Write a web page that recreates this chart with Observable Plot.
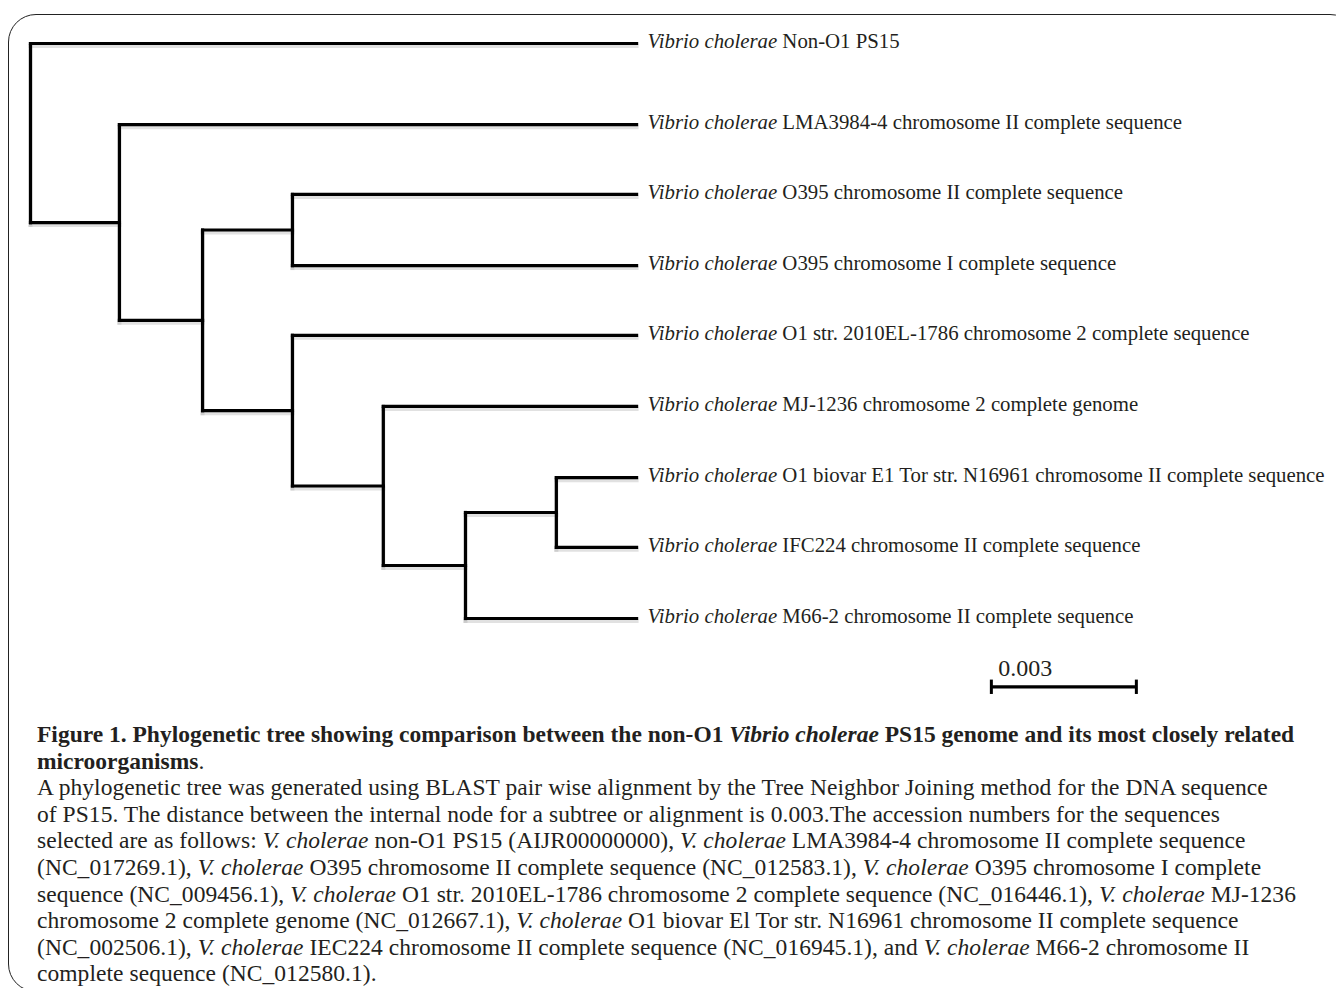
<!DOCTYPE html>
<html><head><meta charset="utf-8">
<script src="https://cdn.jsdelivr.net/npm/d3@7"></script>
<script src="https://cdn.jsdelivr.net/npm/@observablehq/plot@0.6"></script>
<style>
html,body{margin:0;padding:0;background:#fff;}
body{width:1336px;height:988px;overflow:hidden;position:relative;font-family:"Liberation Serif","Times New Roman",serif;color:#231f20;}
#frame{position:absolute;left:8px;top:14px;width:1350px;height:978px;border:1.5px solid #222;border-radius:28px;box-sizing:border-box;}
#chart{position:absolute;left:0;top:0;}
#caption{position:absolute;left:37px;top:721px;font-size:23.5px;line-height:26.6px;}
#caption div{white-space:nowrap;}
#caption div.body{letter-spacing:0.05px;}
</style></head><body>
<div id="frame"></div>
<div id="chart"></div>
<div id="caption">
<div><b>Figure 1. Phylogenetic tree showing comparison between the non-O1 <i>Vibrio cholerae</i> PS15 genome and its most closely related</b></div>
<div><b>microorganisms</b>.</div>
<div class="body">A phylogenetic tree was generated using BLAST pair wise alignment by the Tree Neighbor Joining method for the DNA sequence</div>
<div class="body">of PS15. The distance between the internal node for a subtree or alignment is 0.003.The accession numbers for the sequences</div>
<div class="body">selected are as follows: <i>V. cholerae</i> non-O1 PS15 (AIJR00000000), <i>V. cholerae</i> LMA3984-4 chromosome II complete sequence</div>
<div class="body">(NC_017269.1), <i>V. cholerae</i> O395 chromosome II complete sequence (NC_012583.1), <i>V. cholerae</i> O395 chromosome I complete</div>
<div class="body">sequence (NC_009456.1), <i>V. cholerae</i> O1 str. 2010EL-1786 chromosome 2 complete sequence (NC_016446.1), <i>V. cholerae</i> MJ-1236</div>
<div class="body">chromosome 2 complete genome (NC_012667.1), <i>V. cholerae</i> O1 biovar El Tor str. N16961 chromosome II complete sequence</div>
<div class="body">(NC_002506.1), <i>V. cholerae</i> IEC224 chromosome II complete sequence (NC_016945.1), and <i>V. cholerae</i> M66-2 chromosome II</div>
<div class="body">complete sequence (NC_012580.1).</div>
</div>
<script>
// ---- data ----
const genus = "Vibrio cholerae";
const leafIds = ["L0","L1","L2","L3","L4","L5","L6","L7","L8"];
const leafStrains = [
  "Non-O1 PS15",
  "LMA3984-4 chromosome II complete sequence",
  "O395 chromosome II complete sequence",
  "O395 chromosome I complete sequence",
  "O1 str. 2010EL-1786 chromosome 2 complete sequence",
  "MJ-1236 chromosome 2 complete genome",
  "O1 biovar E1 Tor str. N16961 chromosome II complete sequence",
  "IFC224 chromosome II complete sequence",
  "M66-2 chromosome II complete sequence"
];
const leafRows = [0, 1.13, 2.1, 3.09, 4.06, 5.05, 6.04, 7.01, 8.0];
const leafDepths = [0.01254, 0.01254, 0.01254, 0.01254, 0.01254, 0.01254, 0.01254, 0.01254, 0.01254];
const nodeIds = ["root","A","C","B","D","E","F","G"];
const nodeDepths = [0, 0.00184, 0.00356, 0.00542, 0.00542, 0.0073, 0.009, 0.01088];
const nodeChildren = [["L0","A"],["L1","C"],["B","D"],["L2","L3"],["L4","E"],["L5","F"],["G","L8"],["L6","L7"]];
const scaleBarLength = 0.003;
const scaleBarStart = 0.01988;
const scaleBarRow = 8.95;
const scaleBarLabel = "0.003";

// ---- build tree layout ----
const pos = {};
leafIds.forEach((id, i) => pos[id] = {x: leafDepths[i], y: leafRows[i]});
function place(id) {
  if (pos[id]) return pos[id];
  const i = nodeIds.indexOf(id);
  const kids = nodeChildren[i].map(place);
  pos[id] = {x: nodeDepths[i], y: (kids[0].y + kids[kids.length - 1].y) / 2};
  return pos[id];
}
place("root");
const segs = [];
nodeIds.forEach((id, i) => {
  const p = pos[id];
  const kids = nodeChildren[i].map(k => pos[k]);
  segs.push({x1: p.x, x2: p.x, y1: kids[0].y, y2: kids[kids.length - 1].y});
  kids.forEach(k => segs.push({x1: p.x, x2: k.x, y1: k.y, y2: k.y}));
});
const leaves = leafIds.map((id, i) => ({x: pos[id].x, y: pos[id].y, label: genus + " " + leafStrains[i]}));
const bar = [{x1: scaleBarStart, x2: scaleBarStart + scaleBarLength, y1: scaleBarRow, y2: scaleBarRow}];
const barEnds = [
  {x1: scaleBarStart, x2: scaleBarStart, y1: scaleBarRow - 0.1, y2: scaleBarRow + 0.1},
  {x1: scaleBarStart + scaleBarLength, x2: scaleBarStart + scaleBarLength, y1: scaleBarRow - 0.1, y2: scaleBarRow + 0.1}
];

const pxPerUnit = 48333;
const chart = Plot.plot({
  width: 1336,
  height: 712,
  margin: 0,
  style: {fontFamily: "'Liberation Serif', 'Times New Roman', serif", background: "transparent", color: "#231f20"},
  x: {domain: [0, 0.027], range: [30, 30 + 0.027 * pxPerUnit], axis: null},
  y: {domain: [0, 8], range: [43, 618], axis: null},
  marks: [
    Plot.link(segs, {x1: "x1", y1: "y1", x2: "x2", y2: "y2", stroke: "#aaa", strokeOpacity: 0.35, strokeWidth: 4, dy: 2.5, strokeLinecap: "square"}),
    Plot.link(segs, {x1: "x1", y1: "y1", x2: "x2", y2: "y2", stroke: "#000", strokeWidth: 3.2, strokeLinecap: "square"}),
    Plot.text(leaves, {x: "x", y: "y", text: "label", textAnchor: "start", dx: 11, dy: -2, fontSize: 20.8, fill: "#231f20"}),
    Plot.link(bar, {x1: "x1", y1: "y1", x2: "x2", y2: "y2", stroke: "#000", strokeWidth: 3.2}),
    Plot.link(barEnds, {x1: "x1", y1: "y1", x2: "x2", y2: "y2", stroke: "#000", strokeWidth: 3}),
    Plot.text([scaleBarLabel], {x: scaleBarStart, y: scaleBarRow, text: d => d, textAnchor: "start", dx: 7, dy: -18, fontSize: 24, fill: "#231f20"})
  ]
});
// italicise the genus part of each leaf label
chart.querySelectorAll("text").forEach(t => {
  const s = t.textContent;
  if (s.startsWith(genus)) {
    t.textContent = "";
    const a = document.createElementNS("http://www.w3.org/2000/svg", "tspan");
    a.setAttribute("font-style", "italic");
    a.textContent = genus + "\u00a0";
    const b = document.createElementNS("http://www.w3.org/2000/svg", "tspan");
    b.textContent = s.slice(genus.length + 1);
    t.appendChild(a); t.appendChild(b);
  }
});
document.getElementById("chart").appendChild(chart);
</script>
</body></html>
